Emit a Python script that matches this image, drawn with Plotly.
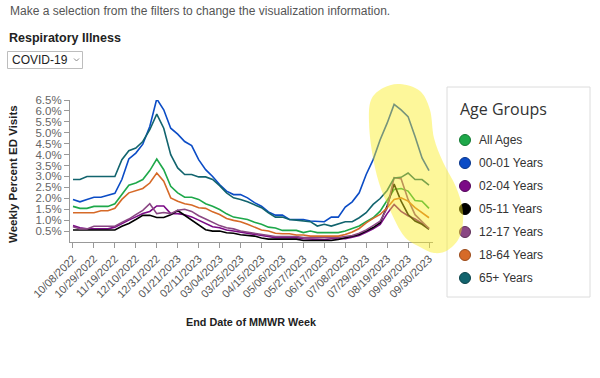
import plotly.graph_objects as go

# ---------------- data ----------------
DATES = [
    "2022-10-08", "2022-10-15", "2022-10-22", "2022-10-29", "2022-11-05", "2022-11-12",
    "2022-11-19", "2022-11-26", "2022-12-03", "2022-12-10", "2022-12-17", "2022-12-24",
    "2022-12-31", "2023-01-07", "2023-01-14", "2023-01-21", "2023-01-28", "2023-02-04",
    "2023-02-11", "2023-02-18", "2023-02-25", "2023-03-04", "2023-03-11", "2023-03-18",
    "2023-03-25", "2023-04-01", "2023-04-08", "2023-04-15", "2023-04-22", "2023-04-29",
    "2023-05-06", "2023-05-13", "2023-05-20", "2023-05-27", "2023-06-03", "2023-06-10",
    "2023-06-17", "2023-06-24", "2023-07-01", "2023-07-08", "2023-07-15", "2023-07-22",
    "2023-07-29", "2023-08-05", "2023-08-12", "2023-08-19", "2023-08-26", "2023-09-02",
    "2023-09-09", "2023-09-16", "2023-09-23", "2023-09-30",
]

ALL_AGES = [1.63, 1.54, 1.54, 1.63, 1.63, 1.63, 1.75, 2.17, 2.60, 2.70,
            2.86, 3.27, 3.80, 3.31, 2.55, 2.25, 2.05, 2.05, 1.95, 1.75,
            1.64, 1.49, 1.29, 1.14, 1.10, 1.03, 0.90, 0.81, 0.68, 0.64,
            0.53, 0.53, 0.53, 0.43, 0.50, 0.43, 0.43, 0.43, 0.43, 0.50,
            0.62, 0.73, 0.93, 1.11, 1.41, 1.90, 2.40, 2.45, 2.33, 1.90,
            1.87, 1.54]
Y00_01 = [1.95, 1.84, 1.95, 2.05, 2.05, 2.14, 2.23, 2.86, 3.80, 4.07,
          4.48, 5.29, 6.55, 6.05, 5.21, 4.94, 4.60, 4.41, 3.77, 3.31,
          3.00, 2.63, 2.33, 2.17, 2.17, 2.02, 1.80, 1.64, 1.38, 1.23,
          1.23, 1.03, 1.03, 1.03, 0.96, 0.93, 0.93, 1.14, 1.14, 1.60,
          1.84, 2.25, 3.09, 3.77, 4.68, 5.44, 6.30, 6.05, 5.74, 4.83,
          3.85, 3.27]
Y02_04 = [0.75, 0.65, 0.60, 0.60, 0.60, 0.60, 0.68, 0.85, 1.00, 1.15,
          1.30, 1.40, 1.65, 1.65, 1.30, 1.30, 1.25, 1.15, 1.00, 0.85,
          0.70, 0.65, 0.55, 0.50, 0.45, 0.40, 0.35, 0.30, 0.25, 0.20,
          0.20, 0.20, 0.20, 0.15, 0.15, 0.12, 0.10, 0.15, 0.15, 0.15,
          0.22, 0.30, 0.45, 0.60, 0.80, 1.30, 1.72, 1.40, 1.20, 1.05,
          0.85, 0.62]
Y05_11 = [0.55, 0.55, 0.55, 0.55, 0.55, 0.55, 0.55, 0.72, 0.85, 1.03,
          1.22, 1.22, 1.12, 1.12, 1.25, 1.44, 1.23, 1.00, 0.78, 0.56,
          0.50, 0.50, 0.42, 0.40, 0.33, 0.30, 0.27, 0.18, 0.13, 0.13,
          0.13, 0.13, 0.13, 0.07, 0.07, 0.07, 0.04, 0.07, 0.12, 0.20,
          0.27, 0.34, 0.50, 0.66, 0.88, 1.65, 2.65, 1.87, 1.26, 0.96,
          0.81, 0.58]
Y12_17 = [0.70, 0.60, 0.60, 0.72, 0.72, 0.72, 0.72, 0.90, 1.05, 1.25,
          1.45, 1.75, 1.30, 1.35, 1.30, 1.45, 1.50, 1.40, 1.20, 1.05,
          0.90, 0.75, 0.65, 0.60, 0.50, 0.45, 0.40, 0.35, 0.30, 0.25,
          0.25, 0.25, 0.25, 0.20, 0.20, 0.20, 0.20, 0.20, 0.20, 0.25,
          0.30, 0.40, 0.55, 0.75, 0.95, 1.55, 2.95, 2.90, 1.95, 1.25,
          0.95, 0.62]
Y18_64 = [1.34, 1.34, 1.34, 1.34, 1.43, 1.43, 1.54, 1.95, 2.25, 2.36,
          2.45, 2.70, 3.16, 2.78, 2.02, 1.87, 1.75, 1.69, 1.57, 1.54,
          1.38, 1.26, 1.08, 0.99, 0.93, 0.81, 0.68, 0.55, 0.50, 0.40,
          0.38, 0.38, 0.32, 0.32, 0.27, 0.27, 0.27, 0.27, 0.27, 0.34,
          0.46, 0.62, 0.88, 1.08, 1.26, 1.57, 1.95, 2.02, 1.87, 1.57,
          1.34, 1.11]
Y65_PLUS = [2.86, 2.86, 3.00, 3.00, 3.00, 3.00, 3.00, 3.77, 4.18, 4.30,
            4.60, 5.14, 5.85, 5.21, 4.00, 3.39, 3.09, 3.09, 2.98, 2.98,
            2.86, 2.58, 2.25, 2.02, 1.95, 1.84, 1.72, 1.57, 1.34, 1.14,
            1.14, 1.03, 1.00, 0.96, 0.93, 0.73, 0.81, 0.73, 0.84, 0.93,
            0.93, 1.11, 1.34, 1.72, 1.99, 2.36, 2.93, 2.96, 3.16, 2.86,
            2.86, 2.60]

SERIES_NAMES = ["All Ages", "00-01 Years", "02-04 Years", "05-11 Years",
                "12-17 Years", "18-64 Years", "65+ Years"]
SERIES_VALUES = [ALL_AGES, Y00_01, Y02_04, Y05_11, Y12_17, Y18_64, Y65_PLUS]

X_TICK_DATES = DATES[::3]
X_TICK_LABELS = ["10/08/2022", "10/29/2022", "11/19/2022", "12/10/2022", "12/31/2022",
                 "01/21/2023", "02/11/2023", "03/04/2023", "03/25/2023", "04/15/2023",
                 "05/06/2023", "05/27/2023", "06/17/2023", "07/08/2023", "07/29/2023",
                 "08/19/2023", "09/09/2023", "09/30/2023"]
Y_TICKS = [0.5, 1.0, 1.5, 2.0, 2.5, 3.0, 3.5, 4.0, 4.5, 5.0, 5.5, 6.0, 6.5]
Y_TICK_LABELS = [f"{v:.1f}%" for v in Y_TICKS]

# ---------------- styling ----------------
COLORS = ["#1ea84a", "#0b4cc6", "#7b0a86", "#000000", "#8a4784", "#d66a28", "#12646e"]
BORDERS = ["#137a33", "#07348a", "#520559", "#000000", "#5e2f59", "#9a4a1a", "#0b434a"]

W, H = 600, 378
ML, MR, MT, MB = 70, 167, 100, 136
PW, PH = W - ML - MR, H - MT - MB
FONT = "Liberation Sans, Arial, sans-serif"


def px(x):
    return (x - ML) / PW


def py(y):
    return (MT + PH - y) / PH


fig = go.Figure()
for name, vals, col in zip(SERIES_NAMES, SERIES_VALUES, COLORS):
    fig.add_trace(go.Scatter(x=DATES, y=vals, mode="lines", name=name,
                             line=dict(color=col, width=1.6), showlegend=False))

shapes = []
annotations = []

# legend box drawn manually to match reference layout
shapes.append(dict(type="rect", xref="paper", yref="paper",
                   x0=px(447), x1=px(590), y0=py(297), y1=py(87),
                   line=dict(color="#dcdcdc", width=1), fillcolor="white", layer="above"))
annotations.append(dict(xref="paper", yref="paper", x=px(458), y=py(109),
                        text="Age Groups", showarrow=False, xanchor="left", yanchor="middle",
                        font=dict(family="Open Sans", size=16, color="#333333")))
for k, (name, col, bc) in enumerate(zip(SERIES_NAMES, COLORS, BORDERS)):
    cy = 140 + k * 23.0
    shapes.append(dict(type="circle", xref="paper", yref="paper",
                       x0=px(459.5), x1=px(470.5), y0=py(cy + 5.5), y1=py(cy - 5.5),
                       fillcolor=col, line=dict(color=bc, width=1), layer="above"))
    annotations.append(dict(xref="paper", yref="paper", x=px(477), y=py(cy),
                            text=name, showarrow=False, xanchor="left", yanchor="middle",
                            font=dict(family=FONT, size=12, color="#333333")))

# yellow highlight blob
pts = [(400, 84), (420, 91), (430, 110), (434, 138), (443, 162), (456, 187), (463, 212),
       (460, 236), (448, 250), (434, 253), (420, 247), (404, 236), (390, 210), (379, 183),
       (372, 152), (369, 122), (371, 100), (383, 88)]
n = len(pts)
path = f"M {px(pts[0][0])},{py(pts[0][1])}"
for i in range(n):
    p0, p1, p2, p3 = pts[i - 1], pts[i], pts[(i + 1) % n], pts[(i + 2) % n]
    c1 = (p1[0] + (p2[0] - p0[0]) / 6, p1[1] + (p2[1] - p0[1]) / 6)
    c2 = (p2[0] - (p3[0] - p1[0]) / 6, p2[1] - (p3[1] - p1[1]) / 6)
    path += (f" C {px(c1[0])},{py(c1[1])} {px(c2[0])},{py(c2[1])} "
             f"{px(p2[0])},{py(p2[1])}")
path += " Z"
shapes.append(dict(type="path", xref="paper", yref="paper", path=path,
                   fillcolor="rgb(250,238,30)", opacity=0.45, line=dict(width=0), layer="above"))

# dropdown control
shapes.append(dict(type="rect", xref="paper", yref="paper",
                   x0=px(7.5), x1=px(82.5), y0=py(68.5), y1=py(51.5),
                   line=dict(color="#bdbdbd", width=1), fillcolor="white"))
shapes.append(dict(type="path", xref="paper", yref="paper",
                   path=f"M {px(74)},{py(58.5)} L {px(76.5)},{py(61)} L {px(79)},{py(58.5)}",
                   line=dict(color="#8a8a8a", width=1)))

# header texts
annotations.append(dict(xref="paper", yref="paper", x=px(8), y=py(10.5),
                        text="Make a selection from the filters to change the visualization information.",
                        showarrow=False, xanchor="left", yanchor="middle",
                        font=dict(family=FONT, size=12, color="#555555")))
annotations.append(dict(xref="paper", yref="paper", x=px(7), y=py(38),
                        text="<b>Respiratory Illness</b>", showarrow=False,
                        xanchor="left", yanchor="middle",
                        font=dict(family=FONT, size=12.5, color="#222222")))
annotations.append(dict(xref="paper", yref="paper", x=px(10), y=py(60),
                        text="COVID-19", showarrow=False, xanchor="left", yanchor="middle",
                        font=dict(family=FONT, size=12, color="#222222")))

# axis titles
annotations.append(dict(xref="paper", yref="paper", x=px(12.5), y=py(174.5),
                        text="<b>Weekly Percent ED Visits</b>", textangle=-90,
                        showarrow=False, xanchor="center", yanchor="middle",
                        font=dict(family=FONT, size=11.5, color="#222222")))
annotations.append(dict(xref="paper", yref="paper", x=px(251), y=py(322),
                        text="<b>End Date of MMWR Week</b>",
                        showarrow=False, xanchor="center", yanchor="middle",
                        font=dict(family=FONT, size=10.8, color="#222222")))

fig.update_layout(
    width=W, height=H,
    margin=dict(l=ML, r=MR, t=MT, b=MB, pad=0),
    paper_bgcolor="white", plot_bgcolor="white",
    showlegend=False,
    shapes=shapes, annotations=annotations,
    xaxis=dict(type="date", range=["2022-10-05", "2023-10-04"],
               tickvals=X_TICK_DATES, ticktext=X_TICK_LABELS, tickangle=-45,
               ticks="outside", ticklen=5, tickcolor="#999999",
               showline=True, linecolor="#999999", linewidth=1,
               showgrid=False, zeroline=False,
               tickfont=dict(family=FONT, size=11, color="#555555")),
    yaxis=dict(range=[0, 6.5], tickvals=Y_TICKS, ticktext=Y_TICK_LABELS,
               ticks="outside", ticklen=5, tickcolor="#999999",
               showline=True, linecolor="#999999", linewidth=1,
               showgrid=False, zeroline=False,
               tickfont=dict(family=FONT, size=11.5, color="#666666")),
)

fig.write_html("out.html", config={"displayModeBar": False},
               post_script="document.body.style.margin='0';")
